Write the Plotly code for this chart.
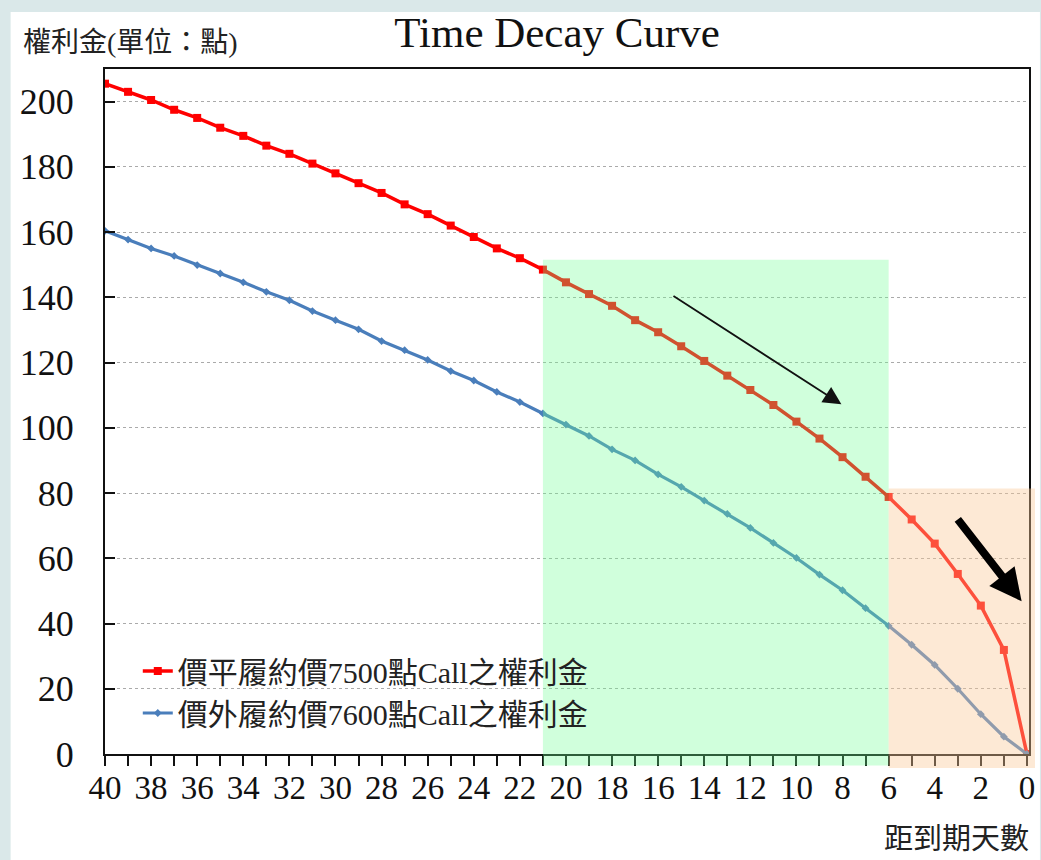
import plotly.graph_objects as go

# ---------------- data ----------------
days = list(range(40, -1, -1))
atm_premium = [205.5, 203, 200.5, 197.5, 195, 192, 189.5, 186.5, 184, 181,
               178, 175, 172, 168.5, 165.5, 162, 158.5, 155, 152, 148.5,
               144.6, 141, 137.4, 133, 129.3, 125, 120.5, 116, 111.6, 107,
               101.9, 96.7, 91, 85, 78.8, 71.9, 64.5, 55.2, 45.5, 31.9, 0]
otm_premium = [160.4, 157.7, 155, 152.7, 149.9, 147.3, 144.6, 141.7, 139.1, 135.8,
               133, 130.2, 126.6, 123.8, 120.8, 117.4, 114.5, 111, 107.9, 104.4,
               101, 97.5, 93.4, 90, 85.7, 81.9, 77.7, 73.6, 69.3, 64.7,
               60.1, 55, 50.2, 44.7, 39.3, 33.5, 27.3, 20, 12.2, 5.3, 0]
series_names = ["價平履約價7500點Call之權利金", "價外履約價7600點Call之權利金"]
x_tickvals = list(range(0, 41))
x_ticktext = [str(v) if v % 2 == 0 else "" for v in x_tickvals]
y_tickvals = list(range(0, 201, 20))
title_text = "Time Decay Curve"
y_label = "權利金(單位：點)"
x_label = "距到期天數"

# shaded zones (days from, days to, top value, bottom value)
green_zone = [21, 6, 151.5, -3.5]
peach_zone = [6, -0.35, 81.4, -4.3]
# arrows (tail day, tail value, head day, head value)
thin_arrow = [15.4, 140.7, 8.05, 107.2]
thick_arrow = [3.05, 72.4, 0.23, 46.8]

# ---------------- layout constants ----------------
W, H = 1041, 860
ML, MR, MT, MB = 105, 6, 69, 106
XR = [40, -0.09]
YR = [0, 210]
PW = W - ML - MR
PH = H - MT - MB

SERIF = "Liberation Serif, Times New Roman, Noto Sans CJK TC, serif"


def px_x(d):
    return (XR[0] - d) / (XR[0] - XR[1])


def px_y(v):
    return (v - YR[0]) / (YR[1] - YR[0])


def pix_to_paper_x(p):
    return (p - ML) / PW


def pix_to_paper_y(p):
    return (H - MB - p) / PH


fig = go.Figure()
fig.add_trace(go.Scatter(
    x=days, y=atm_premium, name=series_names[0], mode="lines+markers",
    line=dict(color="#FF0000", width=3.5),
    marker=dict(symbol="square", size=8, color="#FF0000"),
))
fig.add_trace(go.Scatter(
    x=days, y=otm_premium, name=series_names[1], mode="lines+markers",
    line=dict(color="#4A7EBB", width=3.2),
    marker=dict(symbol="diamond", size=6, color="#4A7EBB"),
))

shapes = [
    # white panel over light border
    dict(type="rect", xref="paper", yref="paper", layer="below",
         x0=pix_to_paper_x(10), x1=pix_to_paper_x(W + 5),
         y0=pix_to_paper_y(H + 5), y1=pix_to_paper_y(12),
         fillcolor="white", line=dict(width=0)),
    dict(type="rect", xref="paper", yref="paper", layer="above",
         x0=px_x(green_zone[0]), x1=px_x(green_zone[1]),
         y0=px_y(green_zone[3]), y1=px_y(green_zone[2]),
         fillcolor="rgb(110,255,146)", opacity=0.32, line=dict(width=0)),
    dict(type="rect", xref="paper", yref="paper", layer="above",
         x0=px_x(peach_zone[0]), x1=px_x(peach_zone[1]),
         y0=px_y(peach_zone[3]), y1=px_y(peach_zone[2]),
         fillcolor="rgb(250,200,150)", opacity=0.40, line=dict(width=0)),
]

annotations = [
    dict(x=thin_arrow[2], y=thin_arrow[3], ax=thin_arrow[0], ay=thin_arrow[1],
         xref="x", yref="y", axref="x", ayref="y", text="", showarrow=True,
         arrowhead=2, arrowsize=2.0, arrowwidth=1.8, arrowcolor="#111111"),
    dict(x=thick_arrow[2], y=thick_arrow[3], ax=thick_arrow[0], ay=thick_arrow[1],
         xref="x", yref="y", axref="x", ayref="y", text="", showarrow=True,
         arrowhead=2, arrowsize=0.8, arrowwidth=8, arrowcolor="#000000"),
    dict(x=pix_to_paper_x(20), y=pix_to_paper_y(42), xref="paper", yref="paper",
         xanchor="left", yanchor="middle", text=y_label, showarrow=False,
         font=dict(family=SERIF, size=28, color="#222222")),
    dict(x=pix_to_paper_x(1037), y=pix_to_paper_y(839), xref="paper", yref="paper",
         xanchor="right", yanchor="middle", text=x_label, showarrow=False,
         font=dict(family=SERIF, size=29, color="#222222")),
]

fig.update_layout(
    width=W, height=H,
    margin=dict(l=ML, r=MR, t=MT, b=MB),
    paper_bgcolor="#DAE8E9",
    plot_bgcolor="rgba(0,0,0,0)",
    title=dict(text=title_text, x=pix_to_paper_x(560), xref="paper", xanchor="center",
               y=1 - 32 / H, yref="container", yanchor="middle",
               font=dict(family=SERIF, size=43, color="#111111")),
    showlegend=True,
    legend=dict(x=pix_to_paper_x(138), y=pix_to_paper_y(645), xanchor="left", yanchor="top",
                bgcolor="rgba(0,0,0,0)", font=dict(family=SERIF, size=30, color="#222222"),
                tracegroupgap=0),
    shapes=shapes,
    annotations=annotations,
    xaxis=dict(range=XR, tickvals=x_tickvals, ticktext=x_ticktext,
               ticks="outside", ticklen=10, tickwidth=1.5, tickcolor="#111111",
               showline=True, linecolor="#111111", linewidth=2, mirror=True,
               showgrid=False, zeroline=False, ticklabelstandoff=-7,
               tickfont=dict(family=SERIF, size=33, color="#111111")),
    yaxis=dict(range=YR, tickvals=y_tickvals,
               ticks="inside", ticklen=10, tickwidth=1.5, tickcolor="#111111",
               showline=True, linecolor="#111111", linewidth=2, mirror=True,
               showgrid=True, gridcolor="#AAAAAA", griddash="dot", gridwidth=1,
               zeroline=False, ticklabelstandoff=22,
               tickfont=dict(family=SERIF, size=36, color="#111111")),
)

fig.write_html("out.html")
